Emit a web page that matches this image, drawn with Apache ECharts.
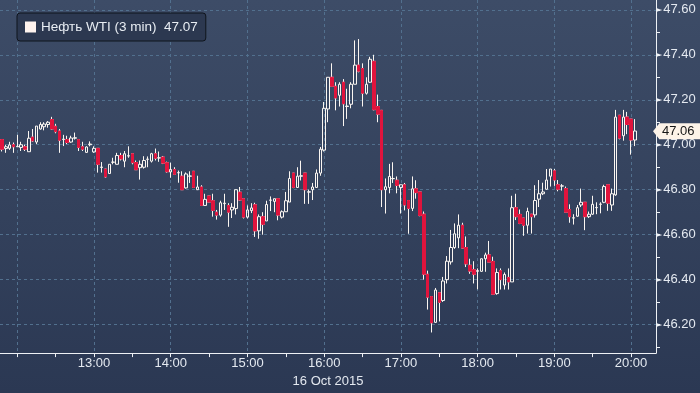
<!DOCTYPE html>
<html>
<head>
<meta charset="utf-8">
<script src="https://cdn.jsdelivr.net/npm/echarts@6/dist/echarts.min.js"></script>
<style>
html,body{margin:0;padding:0;background:#2c3954;}
#chart{width:700px;height:393px;}
</style>
</head>
<body>
<div id="chart"></div>
<script>
// ---- data ----
const seriesName = 'Нефть WTI (3 min)';
const legendLastValue = '47.07';
const currentPrice = 47.06;
const dateLabel = '16 Oct 2015';
const firstCandleMinute = 11 * 60 + 48; // 11:48, 3-minute bars
const barMinutes = 3;
const categoryCount = 171;               // axis runs to 20:18

const openVals = [
47.023,46.983,46.984,47.000,46.991,46.988,46.991,46.969,47.034,47.012,
47.070,47.080,47.090,47.112,47.082,47.061,47.023,47.023,47.012,47.029,
47.023,46.991,46.966,47.000,46.968,46.984,46.899,46.892,46.872,46.922,
46.913,46.952,46.927,46.950,46.960,46.921,46.898,46.900,46.935,46.927,
46.960,46.941,46.945,46.920,46.879,46.890,46.875,46.860,46.808,46.860,
46.882,46.800,46.812,46.730,46.772,46.751,46.700,46.687,46.738,46.730,
46.710,46.716,46.789,46.760,46.678,46.707,46.733,46.617,46.680,46.661,
46.753,46.748,46.760,46.678,46.702,46.745,46.874,46.810,46.860,46.874,
46.789,46.800,46.810,46.874,46.976,47.159,47.300,47.260,47.220,47.278,
47.170,47.180,47.269,47.354,47.339,47.229,47.278,47.371,47.170,47.153,
46.800,46.810,46.849,46.842,46.810,46.822,46.752,46.717,46.804,46.790,
46.691,46.424,46.325,46.210,46.342,46.307,46.400,46.479,46.543,46.586,
46.642,46.543,46.464,46.444,46.437,46.437,46.493,46.510,46.481,46.338,
46.440,46.376,46.410,46.390,46.720,46.690,46.674,46.642,46.691,46.688,
46.758,46.782,46.802,46.860,46.884,46.822,46.816,46.805,46.712,46.674,
46.682,46.732,46.744,46.680,46.691,46.720,46.735,46.744,46.822,46.732,
46.777,47.131,47.040,47.123,47.114,47.021
];
const closeVals = [
46.980,46.991,46.999,46.991,46.993,47.000,46.980,47.029,47.017,47.083,
47.090,47.092,47.100,47.070,47.058,47.020,47.025,47.010,47.030,47.031,
46.988,46.980,46.990,47.003,46.984,46.913,46.901,46.857,46.913,46.923,
46.952,46.937,46.960,46.951,46.920,46.889,46.913,46.930,46.936,46.960,
46.940,46.942,46.918,46.880,46.890,46.868,46.876,46.800,46.870,46.861,
46.810,46.812,46.730,46.757,46.745,46.708,46.687,46.742,46.740,46.700,
46.722,46.800,46.754,46.678,46.710,46.719,46.617,46.680,46.646,46.734,
46.754,46.760,46.687,46.702,46.751,46.850,46.810,46.860,46.862,46.800,
46.791,46.812,46.874,46.980,47.162,47.300,47.260,47.208,47.269,47.182,
47.172,47.269,47.354,47.327,47.229,47.269,47.380,47.156,47.136,46.800,
46.813,46.859,46.850,46.819,46.822,46.732,46.717,46.804,46.787,46.685,
46.424,46.322,46.208,46.354,46.299,46.394,46.482,46.543,46.604,46.642,
46.540,46.470,46.438,46.424,46.440,46.493,46.510,46.478,46.335,46.432,
46.400,46.423,46.390,46.720,46.680,46.650,46.642,46.703,46.680,46.752,
46.782,46.790,46.843,46.892,46.843,46.802,46.817,46.700,46.680,46.675,
46.720,46.744,46.680,46.691,46.735,46.721,46.736,46.814,46.740,46.782,
47.123,47.029,47.123,47.090,47.021,47.061
];
const lowVals = [
46.970,46.964,46.977,46.964,46.990,46.972,46.972,46.969,47.013,47.003,
47.067,47.064,47.076,47.067,47.051,46.964,46.994,47.003,47.009,47.023,
46.972,46.972,46.964,46.993,46.964,46.876,46.876,46.853,46.872,46.913,
46.913,46.930,46.900,46.942,46.913,46.889,46.845,46.894,46.900,46.921,
46.930,46.924,46.914,46.876,46.853,46.868,46.831,46.800,46.805,46.830,
46.810,46.800,46.730,46.730,46.745,46.680,46.667,46.680,46.710,46.635,
46.674,46.690,46.751,46.672,46.672,46.696,46.590,46.582,46.600,46.661,
46.705,46.700,46.664,46.672,46.702,46.745,46.807,46.810,46.841,46.737,
46.737,46.754,46.810,46.862,46.970,47.100,47.260,47.153,47.170,47.083,
47.115,47.162,47.269,47.322,47.170,47.223,47.275,47.153,47.100,46.723,
46.694,46.784,46.830,46.784,46.694,46.708,46.604,46.705,46.760,46.682,
46.400,46.267,46.165,46.208,46.214,46.301,46.383,46.467,46.537,46.540,
46.537,46.456,46.426,46.383,46.357,46.435,46.435,46.478,46.333,46.333,
46.356,46.356,46.356,46.390,46.665,46.647,46.595,46.605,46.605,46.676,
46.723,46.776,46.800,46.814,46.817,46.793,46.796,46.700,46.653,46.645,
46.680,46.723,46.620,46.674,46.688,46.691,46.695,46.740,46.706,46.706,
46.773,47.024,47.018,47.047,46.956,46.994
];
const highVals = [
47.025,47.000,47.013,47.010,47.044,47.013,47.000,47.061,47.070,47.083,
47.100,47.100,47.105,47.124,47.093,47.070,47.044,47.040,47.040,47.054,
47.023,47.013,46.993,47.015,46.993,46.984,46.923,46.892,46.913,46.942,
46.964,46.964,46.972,46.993,46.960,46.930,46.930,46.949,46.948,46.964,
46.983,46.970,46.950,46.925,46.920,46.900,46.885,46.882,46.877,46.882,
46.882,46.862,46.820,46.782,46.772,46.782,46.710,46.751,46.782,46.740,
46.740,46.800,46.812,46.760,46.730,46.740,46.742,46.690,46.700,46.751,
46.770,46.760,46.760,46.708,46.790,46.882,46.874,46.900,46.929,46.874,
46.800,46.830,46.890,46.990,47.190,47.300,47.362,47.278,47.278,47.292,
47.249,47.278,47.464,47.470,47.362,47.300,47.391,47.400,47.223,47.153,
46.850,46.915,46.922,46.859,46.822,46.830,46.752,46.859,46.842,46.790,
46.703,46.440,46.325,46.363,46.342,46.412,46.505,46.621,46.650,46.690,
46.653,46.592,46.493,46.482,46.450,46.493,46.520,46.572,46.502,46.450,
46.450,46.432,46.450,46.773,46.782,46.712,46.674,46.720,46.691,46.820,
46.843,46.831,46.892,46.892,46.892,46.843,46.825,46.814,46.735,46.691,
46.732,46.805,46.744,46.703,46.773,46.744,46.744,46.822,46.822,46.805,
47.155,47.131,47.155,47.146,47.114,47.114
];

const yMin = 46.0733;
const yMax = 47.6437;
const yLabelValues = [46.2, 46.4, 46.6, 46.8, 47.0, 47.2, 47.4, 47.6];
const yTickValues = [46.1, 46.2, 46.3, 46.4, 46.5, 46.6, 46.7, 46.8, 46.9, 47.0, 47.1, 47.2, 47.3, 47.4, 47.5, 47.6];

// ---- build ----
const categories = [];
for (let k = 0; k < categoryCount; k++) {
  const m = firstCandleMinute + barMinutes * k;
  categories.push(String(Math.floor(m / 60)).padStart(2, '0') + ':' + String(m % 60).padStart(2, '0'));
}
const candles = categories.map((c, i) =>
  i < openVals.length ? [openVals[i], closeVals[i], lowVals[i], highVals[i]] : '-');
const downBodies = categories.map((c, i) =>
  (i < openVals.length && closeVals[i] < openVals[i])
    ? [openVals[i], closeVals[i], closeVals[i], openVals[i]] : '-');

const FONT = "'Liberation Sans', Arial, sans-serif";
const TXT = '#e4e9f0';
const AXIS = '#eef1f5';
const RED = '#e0143d';
const WHITE = '#fbf6f1';
const GRID = '#52708e';

const chart = echarts.init(document.getElementById('chart'), null, {renderer: 'canvas'});
chart.setOption({
  animation: false,
  backgroundColor: {
    type: 'linear', x: 0, y: 0, x2: 0, y2: 1,
    colorStops: [{offset: 0, color: '#3d4c67'}, {offset: 1, color: '#2b3853'}]
  },
  textStyle: {fontFamily: FONT},
  grid: {left: -1, right: 44, top: 0, bottom: 34},
  legend: {
    left: 17, top: 13,
    data: [{name: seriesName, icon: 'rect', itemStyle: {color: '#fff4ef', borderWidth: 0}}],
    itemWidth: 11, itemHeight: 11,
    formatter: n => n + '  ' + legendLastValue,
    backgroundColor: '#2c3850',
    borderColor: '#0f141c', borderWidth: 1, borderRadius: 3,
    padding: [7, 8, 7, 8],
    selectedMode: false,
    textStyle: {color: '#e8edf3', fontSize: 13.5, fontFamily: FONT}
  },
  xAxis: {
    type: 'category',
    data: categories,
    boundaryGap: true,
    axisLine: {show: true, lineStyle: {color: AXIS, width: 1}},
    axisTick: {
      show: true, alignWithLabel: true, length: 4,
      interval: (i, v) => v.endsWith(':00') || v.endsWith(':30'),
      lineStyle: {color: AXIS}
    },
    axisLabel: {
      interval: (i, v) => v.endsWith(':00') && v !== '12:00',
      color: TXT, fontSize: 13, margin: 4, fontFamily: FONT
    },
    splitLine: {
      show: true, alignWithLabel: true,
      interval: (i, v) => v.endsWith(':00'),
      lineStyle: {color: GRID, type: [3, 3], width: 1}
    },
    name: dateLabel,
    nameLocation: 'middle',
    nameGap: 21,
    nameTextStyle: {color: TXT, fontSize: 13, fontFamily: FONT}
  },
  yAxis: [
    {
      type: 'value', position: 'right', min: yMin, max: yMax,
      axisLine: {show: true, lineStyle: {color: AXIS, width: 1}},
      axisTick: {show: true, customValues: yTickValues, length: 4, lineStyle: {color: AXIS}},
      axisLabel: {
        customValues: yLabelValues,
        margin: 0,
        formatter: v => '{a|►}{b|' + v.toFixed(2) + '}',
        rich: {
          a: {color: AXIS, fontSize: 8, fontFamily: 'DejaVu Sans', padding: [0, 1, 0, 0]},
          b: {color: TXT, fontSize: 13, fontFamily: FONT}
        }
      },
      splitLine: {show: false}
    },
    {
      type: 'value', position: 'right', min: yMin, max: yMax,
      axisLine: {show: false},
      axisTick: {show: false, customValues: yLabelValues},
      axisLabel: {show: false, customValues: yLabelValues},
      splitLine: {show: true, lineStyle: {color: GRID, type: [3, 3], width: 1}}
    }
  ],
  series: [
    {
      name: seriesName,
      type: 'candlestick',
      data: candles,
      barWidth: 3,
      itemStyle: {
        color: 'rgba(0,0,0,0)', color0: RED,
        borderColor: WHITE, borderColor0: WHITE, borderWidth: 1
      },
      markLine: {
        silent: true,
        animation: false,
        symbol: ['none', 'path://M0,0 L10,0 L5,10 Z'],
        symbolSize: [15, 6],
        lineStyle: {color: '#fdf3e8', width: 0, opacity: 1},
        label: {
          show: true, position: 'end', distance: 3,
          formatter: () => currentPrice.toFixed(2),
          backgroundColor: '#fdf3e8', color: '#151515',
          fontSize: 13, fontFamily: FONT,
          padding: [1, 6, 0, 3], lineHeight: 15
        },
        data: [{yAxis: currentPrice}]
      }
    },
    {
      name: 'bodies',
      type: 'candlestick',
      data: downBodies,
      barWidth: 3,
      silent: true,
      itemStyle: {
        color: RED, color0: RED,
        borderColor: RED, borderColor0: RED, borderWidth: 1
      }
    }
  ]
});
</script>
</body>
</html>
